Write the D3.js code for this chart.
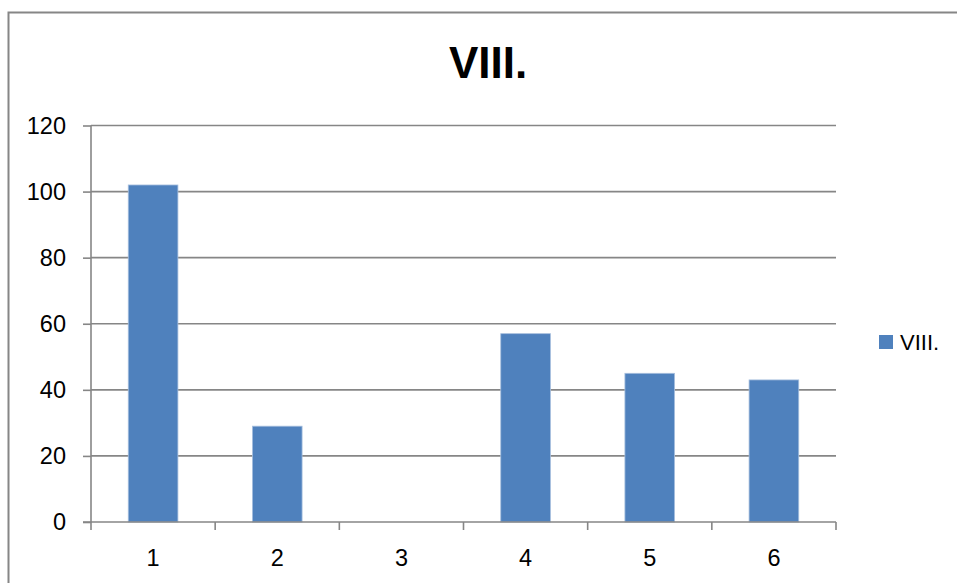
<!DOCTYPE html>
<html>
<head>
<meta charset="utf-8">
<script src="https://cdn.jsdelivr.net/npm/d3@7"></script>
<style>
  html, body { margin: 0; padding: 0; background: #fff; }
  svg { display: block; }
  text { font-family: "Liberation Sans", Arial, sans-serif; fill: #000; }
</style>
</head>
<body>
<svg id="chart" width="957" height="583"></svg>
<script>
// Series data
const categories = ["1", "2", "3", "4", "5", "6"];
const values = [102, 29, 0, 57, 45, 43];
const seriesName = "VIII.";
const yTicks = [0, 20, 40, 60, 80, 100, 120];

const svg = d3.select("#chart");
const W = 957, H = 583;
const plot = { left: 91, right: 836, top: 125.5, bottom: 522 };
const gridColor = "#868686";
const barColor = "#4f81bd";
const labelFont = "'Liberation Sans', Arial, sans-serif";

// Outer chart frame
svg.append("rect")
  .attr("x", 8.5).attr("y", 12.5)
  .attr("width", W + 20).attr("height", H + 20)
  .attr("fill", "none").attr("stroke", gridColor).attr("stroke-width", 2);

const x = d3.scaleBand().domain(categories).range([plot.left, plot.right]).padding(0);
const y = d3.scaleLinear().domain([0, 120]).range([plot.bottom, plot.top]);

// Horizontal gridlines
svg.append("g").selectAll("line").data(yTicks.filter(t => t > 0)).join("line")
  .attr("x1", plot.left).attr("x2", plot.right)
  .attr("y1", d => y(d)).attr("y2", d => y(d))
  .attr("stroke", gridColor).attr("stroke-width", 1.6);

// Y axis
const yAxis = svg.append("g")
  .attr("transform", `translate(${plot.left},0)`)
  .call(d3.axisLeft(y).tickValues(yTicks).tickSize(8).tickPadding(17).tickFormat(d3.format("d")));
yAxis.select(".domain").attr("stroke", gridColor).attr("stroke-width", 1.6)
  .attr("d", `M0,${plot.top}V${plot.bottom}`);
yAxis.selectAll(".tick line").attr("stroke", gridColor).attr("stroke-width", 1.6);
yAxis.selectAll(".tick text")
  .style("font-size", "23.5px").style("font-family", labelFont)
  .attr("fill", "#000").attr("dy", "0.33em");

// Bars
const barW = x.bandwidth() * 0.4;
svg.append("g").selectAll("rect").data(values.map((v, i) => ({ c: categories[i], v }))).join("rect")
  .attr("x", d => x(d.c) + (x.bandwidth() - barW) / 2)
  .attr("y", d => y(d.v))
  .attr("width", barW)
  .attr("height", d => y(0) - y(d.v))
  .attr("fill", barColor)
  .attr("stroke", "#a7bfde").attr("stroke-width", d => d.v > 0 ? 0.8 : 0);

// X axis with ticks on category boundaries
const xAxisG = svg.append("g").attr("transform", `translate(0,${plot.bottom})`);
xAxisG.append("line")
  .attr("x1", plot.left - 8).attr("x2", plot.right)
  .attr("stroke", gridColor).attr("stroke-width", 1.6);
const boundaries = categories.map(c => x(c)).concat([x(categories[categories.length - 1]) + x.bandwidth()]);
xAxisG.selectAll("line.tk").data(boundaries).join("line").attr("class", "tk")
  .attr("x1", d => d).attr("x2", d => d).attr("y1", 0).attr("y2", 8)
  .attr("stroke", gridColor).attr("stroke-width", 1.6);
xAxisG.selectAll("text").data(categories).join("text")
  .attr("x", d => x(d) + x.bandwidth() / 2)
  .attr("y", 44)
  .attr("text-anchor", "middle")
  .style("font-size", "23.5px")
  .text(d => d);

// Title
svg.append("text")
  .attr("x", 488).attr("y", 78)
  .attr("text-anchor", "middle")
  .style("font-size", "44px").style("font-weight", "bold")
  .text(seriesName);

// Legend
const legend = svg.append("g").attr("transform", "translate(879,335)");
legend.append("rect").attr("width", 14).attr("height", 14).attr("fill", barColor);
legend.append("text").attr("x", 21).attr("y", 14.5).style("font-size", "22px").text(seriesName);
</script>
</body>
</html>
